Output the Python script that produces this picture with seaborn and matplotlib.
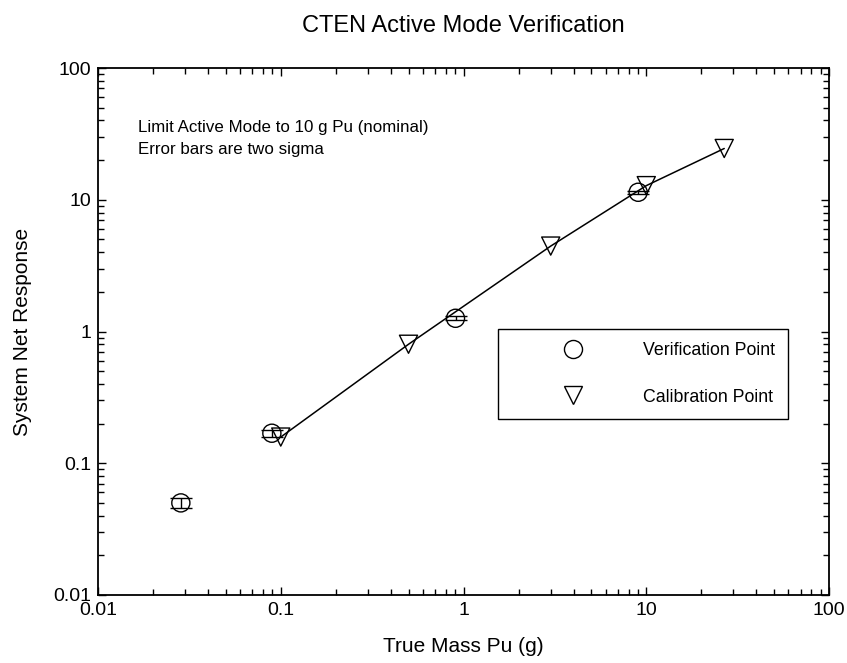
import numpy as np
import pandas as pd
import matplotlib
matplotlib.use("Agg")
import matplotlib.pyplot as plt
import seaborn as sns
from matplotlib.lines import Line2D
from matplotlib.ticker import LogLocator, FixedLocator, FixedFormatter

# Datos
ver_mass = [0.0284, 0.0894, 0.904, 9.03]
ver_resp = [0.050, 0.169, 1.26, 11.4]
ver_err = [0.004, 0.010, 0.04, 0.3]

cal_mass = [0.1, 0.5, 3.0, 10.0, 26.7]
cal_resp = [0.158, 0.80, 4.45, 12.8, 24.5]

major_ticks = [0.01, 0.1, 1, 10, 100]
major_labels = ["0.01", "0.1", "1", "10", "100"]

sns.set_style("ticks")
plt.rcParams["font.family"] = ["Liberation Sans", "DejaVu Sans"]
plt.rcParams.update({"text.color": "black", "axes.labelcolor": "black",
                     "xtick.color": "black", "ytick.color": "black"})

fig = plt.figure(figsize=(8.47, 6.63), dpi=100)
ax = fig.add_axes([0.1157, 0.1026, 0.8631, 0.7948])

cal = pd.DataFrame({"masa": cal_mass, "resp": cal_resp})
ver = pd.DataFrame({"masa": ver_mass, "resp": ver_resp})

# Curva de calibracion
sns.lineplot(data=cal, x="masa", y="resp", color="black", linewidth=1.1,
             sort=False, estimator=None, ax=ax, zorder=2)

# Barras de error (dos sigma)
ax.errorbar(ver_mass, ver_resp, yerr=ver_err, fmt="none", ecolor="black",
            elinewidth=1.0, capsize=8, capthick=1.0, zorder=3)

sns.scatterplot(data=ver, x="masa", y="resp", marker="o", s=170,
                facecolor="none", edgecolor="black", linewidth=1.0, ax=ax, zorder=4)
sns.scatterplot(data=cal, x="masa", y="resp", marker="v", s=170,
                facecolor="none", edgecolor="black", linewidth=1.0, ax=ax, zorder=4)

ax.set_xscale("log")
ax.set_yscale("log")
ax.set_xlim(0.01, 100)
ax.set_ylim(0.01, 100)

for axis in (ax.xaxis, ax.yaxis):
    axis.set_major_locator(FixedLocator(major_ticks))
    axis.set_major_formatter(FixedFormatter(major_labels))
    axis.set_minor_locator(LogLocator(base=10, subs=np.arange(2, 10), numticks=20))
    axis.set_minor_formatter(plt.NullFormatter())

ax.tick_params(which="both", direction="in", top=True, right=True,
               color="black", labelsize=14, width=1.0)
ax.tick_params(which="major", length=6, pad=5)
ax.tick_params(which="minor", length=4)
for sp in ax.spines.values():
    sp.set_linewidth(1.3)
    sp.set_color("black")

ax.set_xlabel("True Mass Pu (g)", fontsize=15, labelpad=13)
ax.set_ylabel("System Net Response", fontsize=15, labelpad=15)
ax.set_title("CTEN Active Mode Verification", fontsize=17, pad=26)

ax.text(0.0547, 0.888, "Limit Active Mode to 10 g Pu (nominal)", transform=ax.transAxes,
        fontsize=12.2, ha="left", va="center")
ax.text(0.0547, 0.846, "Error bars are two sigma", transform=ax.transAxes,
        fontsize=12.2, ha="left", va="center")

handles = [
    Line2D([], [], linestyle="none", marker="o", markersize=13,
           markerfacecolor="none", markeredgecolor="black", markeredgewidth=1.0),
    Line2D([], [], linestyle="none", marker="v", markersize=13,
           markerfacecolor="none", markeredgecolor="black", markeredgewidth=1.0),
]
leg = ax.legend(handles, ["Verification Point", "Calibration Point"],
                loc="upper left", bbox_to_anchor=(0.547, 0.505), borderaxespad=0,
                fontsize=12.8, frameon=True, fancybox=False, handlelength=6.9,
                handletextpad=0.5, borderpad=0.75, labelspacing=1.65)
leg.get_frame().set_edgecolor("black")
leg.get_frame().set_linewidth(1.0)
leg.get_frame().set_alpha(1)

fig.savefig("out.png", dpi=100)
